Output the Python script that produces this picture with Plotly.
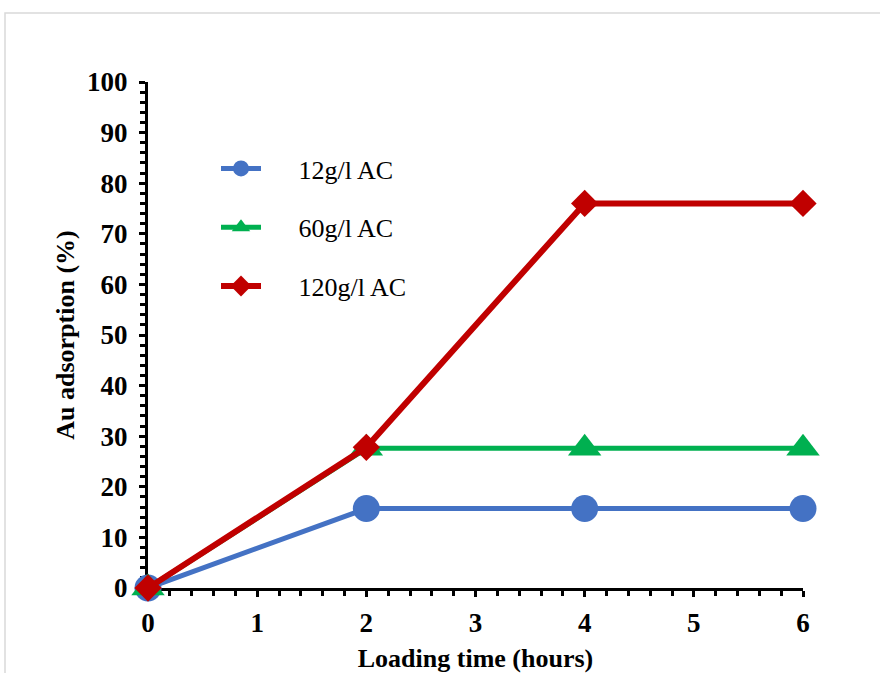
import plotly.graph_objects as go

# Loading time (hours) and Au adsorption (%) for each activated-carbon dose
hours = [0, 2, 4, 6]
ac_12 = [0, 15.7, 15.7, 15.7]
ac_60 = [0, 27.6, 27.6, 27.6]
ac_120 = [0, 27.8, 76.0, 76.0]

series_names = ["12g/l AC", "60g/l AC", "120g/l AC"]
series_values = [ac_12, ac_60, ac_120]
series_colors = ["#4472C4", "#00B050", "#C00000"]
series_symbols = ["circle", "triangle-up", "diamond"]
series_sizes = [27, 29, 21]
series_widths = [5, 5, 6]

FONT = "Liberation Serif, Times New Roman, serif"
W, H = 880, 673
ML, MR, MT, MB = 148, 77, 82, 85
PAD = "\u00a0" * 5  # gap between legend sample and its label

fig = go.Figure()
for i, (name, vals) in enumerate(zip(series_names, series_values)):
    fig.add_trace(go.Scatter(
        x=hours, y=vals, name=PAD + name, mode="lines+markers",
        legendgroup=f"g{i}",
        line=dict(color=series_colors[i], width=series_widths[i]),
        marker=dict(symbol=series_symbols[i], size=series_sizes[i],
                    color=series_colors[i], line=dict(width=0)),
        cliponaxis=False,
    ))

# light grey frame around the whole chart area
pw = W - ML - MR
ph = H - MT - MB
fig.add_shape(type="rect", xref="paper", yref="paper",
              x0=(5 - ML) / pw, x1=(W + 10 - ML) / pw,
              y0=(H - MB - (H + 10)) / ph, y1=(H - MB - 13) / ph,
              line=dict(color="#d9d9d9", width=1.5), fillcolor="rgba(0,0,0,0)",
              layer="below")

axis_common = dict(
    showgrid=False, zeroline=False, showline=True, linecolor="black", linewidth=3,
    ticks="outside", ticklen=6, tickwidth=2.5, tickcolor="black",
    tickfont=dict(family=FONT, size=27, color="black", weight="bold"),
    automargin=False, layer="below traces",
)

fig.update_layout(
    width=W, height=H,
    margin=dict(l=ML, r=MR, t=MT, b=MB),
    paper_bgcolor="white", plot_bgcolor="white",
    font=dict(family=FONT, color="black"),
    xaxis=dict(range=[0, 6], dtick=1, tick0=0, ticklabelstandoff=3,
               minor=dict(dtick=0.2, ticks="outside", ticklen=5, tickwidth=2.5, tickcolor="black"),
               title=dict(text="Loading time (hours)", standoff=20,
                          font=dict(family=FONT, size=26, color="black", weight="bold")),
               **axis_common),
    yaxis=dict(range=[0, 100], dtick=10, tick0=0, ticklabelstandoff=6,
               minor=dict(dtick=2, ticks="outside", ticklen=5, tickwidth=2.5, tickcolor="black"),
               title=dict(text="Au adsorption (%)", standoff=5,
                          font=dict(family=FONT, size=26, color="black", weight="bold")),
               **axis_common),
    legend=dict(x=(216 - ML) / pw, y=(H - MB - 145) / ph, xanchor="left", yanchor="top",
                font=dict(family=FONT, size=26, color="black"),
                tracegroupgap=22, itemwidth=40, bgcolor="rgba(0,0,0,0)"),
    showlegend=True,
)

fig.write_html("out.html")
